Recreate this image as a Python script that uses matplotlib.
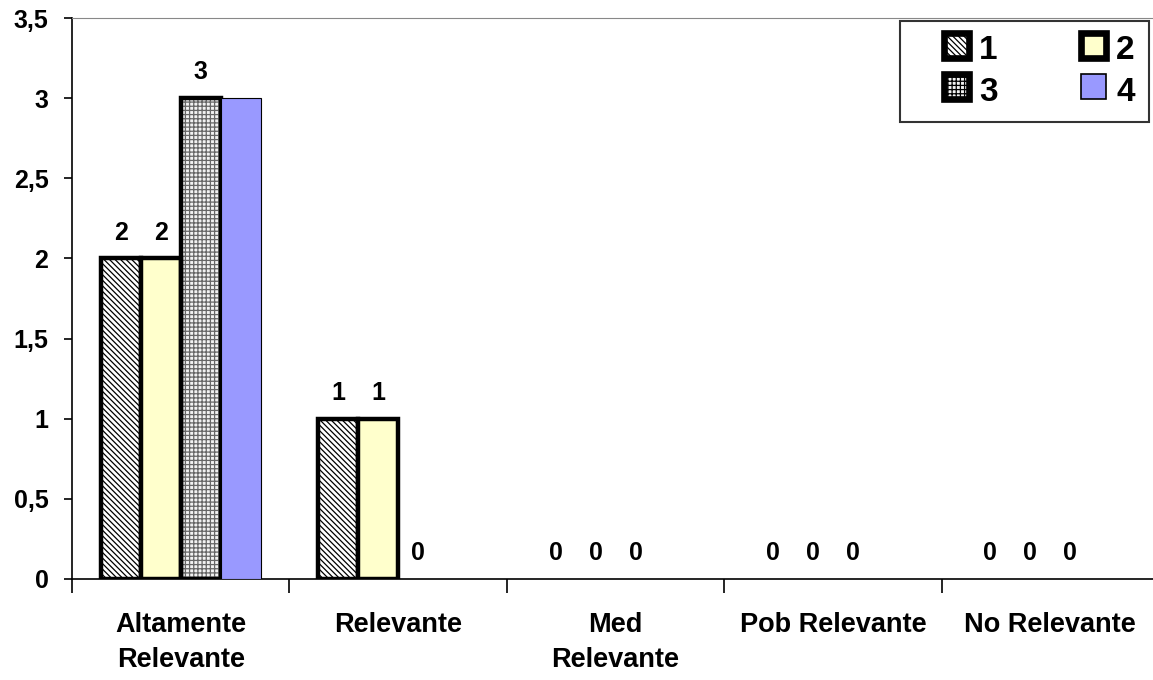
import numpy as np
import matplotlib.pyplot as plt
from matplotlib.patches import Patch
from matplotlib.legend_handler import HandlerPatch

plt.rcParams.update({'font.family': 'Liberation Sans', 'font.weight': 'bold'})

categorias = ['Altamente\nRelevante', 'Relevante', 'Med\nRelevante', 'Pob Relevante', 'No Relevante']
series = ['1', '2', '3', '4']
s1 = [2, 1, 0, 0, 0]
s2 = [2, 1, 0, 0, 0]
s3 = [3, 0, 0, 0, 0]
s4 = [3, 0, 0, 0, 0]
valores = [s1, s2, s3, s4]

# estilo de cada serie: relleno, trama, color de trama, grosor del borde
fills = ['white', '#FFFFCC', '#F2F2F2', '#9999FF']
hatches = ['\\\\\\\\\\\\', None, '++++', None]
hcolors = ['black', None, '#666666', None]
lws = [3.2, 3.2, 3.2, 0.8]
con_etiqueta = [True, True, True, False]

fig = plt.figure(figsize=(11.53, 6.80), dpi=100)
ax = fig.add_axes([72 / 1153, 1 - 579 / 680, 1087 / 1153, 561 / 680])

x = np.arange(len(categorias))
w = 0.184
plt.rcParams['hatch.linewidth'] = 0.9
for i, vals in enumerate(valores):
    pos = x + (i - 1.5) * w
    vals = np.array(vals)
    hay = vals > 0
    if hatches[i]:
        ax.bar(pos[hay], vals[hay], w, color=fills[i], hatch=hatches[i], edgecolor=hcolors[i], linewidth=0, zorder=2)
        ax.bar(pos[hay], vals[hay], w, fill=False, edgecolor='black', linewidth=lws[i], zorder=3)
    else:
        ax.bar(pos[hay], vals[hay], w, color=fills[i], edgecolor='black', linewidth=lws[i], zorder=3)
    if con_etiqueta[i]:
        for p, v in zip(pos, vals):
            ax.annotate(str(v), (p, v), xytext=(0, 10), textcoords='offset points',
                        ha='center', va='bottom', fontsize=18, fontweight='bold')

ax.set_xlim(-0.5, 4.5)
ax.set_ylim(0, 3.5)
ax.set_yticks(np.arange(0, 3.51, 0.5))
ax.set_yticklabels(['0', '0,5', '1', '1,5', '2', '2,5', '3', '3,5'], fontsize=18, fontweight='bold')
ax.tick_params(axis='y', direction='out', length=6, width=1.2, pad=11)

ax.set_xticks(np.arange(-0.5, 4.5, 1))
ax.set_xticklabels([])
ax.tick_params(axis='x', direction='out', length=10, width=1.2)
ax.set_xticks(x, minor=True)
ax.set_xticklabels(categorias, minor=True, fontsize=19.5, fontweight='bold', linespacing=1.45)
ax.tick_params(axis='x', which='minor', length=0, pad=24)

ax.spines['right'].set_visible(False)
ax.spines['top'].set_color('#888888')
ax.spines['left'].set_linewidth(1.2)
ax.spines['bottom'].set_linewidth(1.2)


class SquareHandler(HandlerPatch):
    def create_artists(self, legend, orig, xd, yd, width, height, fontsize, trans):
        s = 0.75 * fontsize
        p = plt.Rectangle((xd + width - s, yd + (height - s) / 2), s, s, transform=trans)
        p.update_from(orig)
        p.set_transform(trans)
        return [p]


handles = []
for i in range(4):
    handles.append(Patch(facecolor=fills[i], hatch=hatches[i], edgecolor='black', linewidth=lws[i] * 1.5))
# orden por filas: 1 2 / 3 4
orden = [0, 2, 1, 3]
leg = ax.legend([handles[k] for k in orden], [series[k] for k in orden], ncol=2,
                loc='upper right', bbox_to_anchor=(1148 / 1159, (579 - 21) / 561),
                prop={'size': 24, 'weight': 'bold'}, frameon=True, fancybox=False,
                edgecolor='black', handlelength=1.65, handleheight=0.8, handletextpad=0.3,
                columnspacing=1.6, borderpad=0.42, labelspacing=0.3, borderaxespad=0.0,
                handler_map={Patch: SquareHandler()})
leg.get_frame().set_linewidth(1.5)

fig.savefig('out.png', dpi=100)
